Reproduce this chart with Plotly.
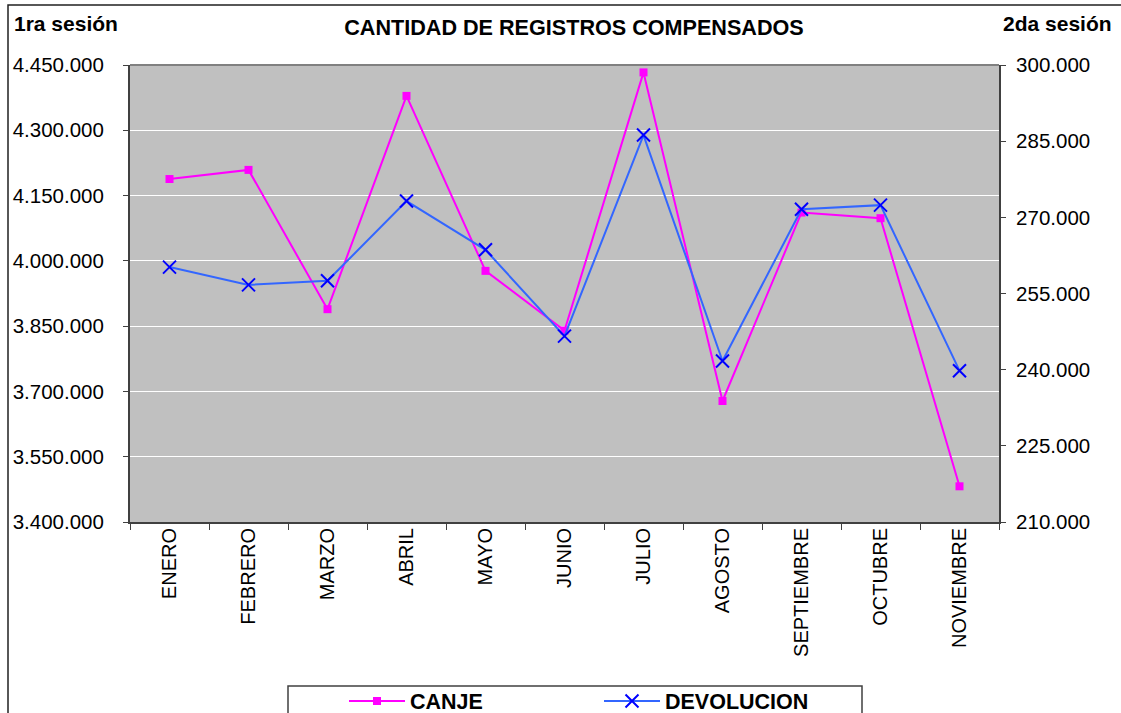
import plotly.graph_objects as go

meses = ["ENERO", "FEBRERO", "MARZO", "ABRIL", "MAYO", "JUNIO", "JULIO",
         "AGOSTO", "SEPTIEMBRE", "OCTUBRE", "NOVIEMBRE"]
canje = [4188000, 4209000, 3889000, 4379000, 3977000, 3840000, 4433000,
         3678000, 4111000, 4098000, 3482000]
devolucion = [260200, 256700, 257500, 273200, 263600, 246600, 286200,
              241700, 271600, 272400, 239800]

FONT = "Arial, 'Liberation Sans', sans-serif"
W, H = 1121, 713
L, R, T, B = 130, 122, 65, 191
PW, PH = W - L - R, H - T - B


def px(x):
    return (x - L) / PW


def py(y):
    return (H - B - y) / PH


fig = go.Figure()
fig.add_trace(go.Scatter(
    x=meses, y=canje, name="<b>CANJE</b>", mode="lines+markers",
    line=dict(color="#FF00FF", width=2),
    marker=dict(symbol="square", size=8, color="#FF00FF"),
    yaxis="y",
))
fig.add_trace(go.Scatter(
    x=meses, y=devolucion, name="<b>DEVOLUCION</b>", mode="lines+markers",
    line=dict(color="#3366FF", width=2),
    marker=dict(symbol="x-thin", size=13, color="#0000FF",
                line=dict(color="#0000FF", width=2)),
    yaxis="y2",
))

fig.update_layout(
    width=W, height=H,
    margin=dict(l=L, r=R, t=T, b=B, autoexpand=False),
    paper_bgcolor="white",
    plot_bgcolor="#C0C0C0",
    separators=",.",
    font=dict(family=FONT, size=20, color="black"),
    xaxis=dict(
        type="category", range=[-0.5, 10.5],
        tickson="boundaries", ticks="outside", ticklen=6, tickcolor="#404040",
        tickangle=-90, tickfont=dict(size=20),
        showgrid=False, showline=True, linecolor="#404040", linewidth=2,
        ticklabelstandoff=-4,
    ),
    yaxis=dict(
        range=[3400000, 4450000], dtick=150000, tick0=3400000,
        tickformat=",d", ticks="outside", ticklen=5, tickcolor="#404040",
        showgrid=True, gridcolor="white", gridwidth=1,
        showline=True, linecolor="#404040", linewidth=2,
        tickfont=dict(size=20.5), ticklabelstandoff=15, zeroline=False,
    ),
    yaxis2=dict(
        range=[210000, 300000], dtick=15000, tick0=210000,
        tickformat=",d", ticks="outside", ticklen=5, tickcolor="#404040",
        overlaying="y", side="right", showgrid=False,
        showline=True, linecolor="#404040", linewidth=2,
        tickfont=dict(size=20.5), ticklabelstandoff=6, zeroline=False,
    ),
    title=dict(
        text="<b>CANTIDAD DE REGISTROS COMPENSADOS</b>",
        x=px(574), xref="paper", xanchor="center",
        y=1 - 27 / H, yref="container", yanchor="middle",
        font=dict(size=21.6, family=FONT),
    ),
    showlegend=True,
    legend=dict(
        orientation="h", x=px(344), xanchor="left",
        y=py(701), yanchor="middle",
        font=dict(size=21.5, family=FONT),
        bgcolor="rgba(0,0,0,0)", borderwidth=0,
        itemwidth=56,
        entrywidth=184, entrywidthmode="pixels",
    ),
    annotations=[
        dict(text="<b>1ra sesión</b>", x=px(12), y=py(23), xref="paper",
             yref="paper", xanchor="left", yanchor="middle", showarrow=False,
             font=dict(size=21, family=FONT)),
        dict(text="<b>2da sesión</b>", x=px(1114), y=py(23), xref="paper",
             yref="paper", xanchor="right", yanchor="middle", showarrow=False,
             font=dict(size=21, family=FONT)),
    ],
    shapes=[
        # outer chart border
        dict(type="rect", xref="paper", yref="paper",
             x0=px(8), x1=px(1140), y0=py(730), y1=py(5),
             line=dict(color="#202020", width=1.5), layer="below"),
        # top border of plot area
        dict(type="line", xref="paper", yref="paper",
             x0=0, x1=1, y0=1, y1=1, line=dict(color="#808080", width=2)),
        # legend box
        dict(type="rect", xref="paper", yref="paper",
             x0=px(288), x1=px(862), y0=py(730), y1=py(686),
             line=dict(color="#404040", width=1.5)),
    ],
)

fig.write_html(
    "out.html",
    config={"displayModeBar": False},
    post_script="document.body.style.margin='0';document.body.style.padding='0';",
)
